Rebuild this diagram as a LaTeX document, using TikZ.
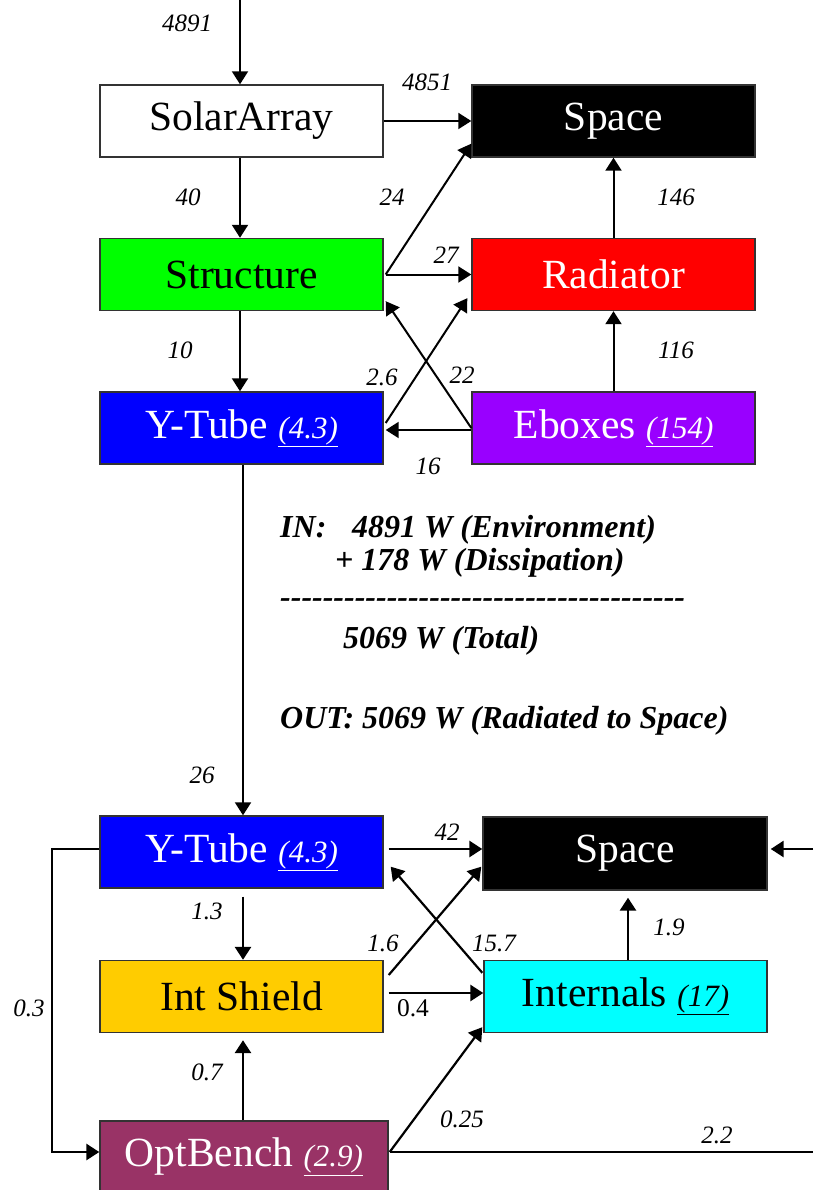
\documentclass[tikz,border=0pt]{standalone}
\usepackage{fontspec}
\setmainfont{Liberation Serif}
\usetikzlibrary{arrows.meta,calc}
\definecolor{cgreen}{HTML}{00FF00}
\definecolor{cred}{HTML}{FF0000}
\definecolor{cblue}{HTML}{0000FF}
\definecolor{cpurple}{HTML}{9900FF}
\definecolor{cgold}{HTML}{FFCC00}
\definecolor{ccyan}{HTML}{00FFFF}
\definecolor{cbench}{HTML}{993366}
\begin{document}
\begin{tikzpicture}[x=1pt,y=-1pt,
  box/.style={draw=black!80,line width=1.4pt,minimum width=283pt,minimum height=72pt,inner sep=0pt,
    font=\fontsize{41.5}{48}\selectfont},
  wbox/.style={box,text=white},
  lab/.style={font=\fontsize{25}{28}\selectfont\itshape,inner sep=0pt},
  ulab/.style={font=\fontsize{25.5}{28}\selectfont,inner sep=0pt},
  note/.style={font=\fontsize{32}{36}\selectfont\bfseries\itshape,anchor=west,inner sep=0pt},
  flow/.style={line width=2pt,-{Triangle[length=13pt,width=16pt]}},
  bflow/.style={line width=2.8pt,-{Triangle[length=13pt,width=16pt]}},
  dflow/.style={line width=2.2pt,-{Triangle[length=13pt,width=16pt]}},
  plain/.style={line width=2.8pt}
]
\newcommand{\sub}[1]{\fontsize{31}{36}\selectfont\underline{\textit{#1}}}
\newcommand{\hyfive}{-\kern0pt-\kern0pt-\kern0pt-\kern0pt-\kern0pt}
\useasboundingbox (0,0) rectangle (813,1190);
\fill[white] (0,0) rectangle (813,1190);

% nodes
\node[box,fill=white] (sa) at (241.5,121) {SolarArray};
\node[wbox,fill=black] (sp1) at (613.5,121) {Space};
\node[box,fill=cgreen] (st) at (241.5,274.5) {Structure};
\node[wbox,fill=cred] (rad) at (613.5,274.5) {Radiator};
\node[wbox,fill=cblue] (yt1) at (241.5,428) {Y-Tube \sub{(4.3)}};
\node[wbox,fill=cpurple] (eb) at (613.5,428) {Eboxes \sub{(154)}};
\node[wbox,fill=cblue] (yt2) at (241.5,852) {Y-Tube \sub{(4.3)}};
\node[wbox,fill=black,minimum width=284pt,minimum height=73pt] (sp2) at (625,853.5) {Space};
\node[box,fill=cgold] (is) at (241.5,996.5) {Int Shield};
\node[box,fill=ccyan] (int) at (625.5,996.5) {Internals \sub{(17)}};
\node[wbox,fill=cbench,minimum width=288pt] (ob) at (244,1157) {OptBench \sub{(2.9)}};

\coordinate (top) at (240,0);
\coordinate (rbot) at (813,1152);
\coordinate (rtop) at (813,849);

% top connectors
\draw[flow] (top) -- (sa.north -| top);
\draw[flow] (sa.east) -- (sp1.west);
\draw[flow] (sa.south -| top) -- (st.north -| top);
\draw[flow] ($(st.east)+(2,0)$) -- ($(sp1.south west)+(0,-14)$);
\draw[flow] ($(st.east)+(2,0)$) -- (rad.west);
\draw[flow] (rad.north) -- (sp1.south);
\draw[flow] (st.south -| top) -- (yt1.north -| top);
\draw[flow] (eb.north) -- (rad.south);
\draw[flow] (eb.west) -- ($(st.south east)+(2,-10)$);
\draw[flow] ($(yt1.east)+(2,-5)$) -- ($(rad.south west)+(-4,-13)$);
\draw[flow] ($(eb.west)+(0,2)$) -- ($(yt1.east)+(2,2)$);
\draw[flow] ($(yt1.south)+(1.5,0)$) -- ($(yt2.north)+(1.5,0)$);

% bottom connectors
\draw[bflow] ($(yt2.east)+(5,-3)$) -- ($(sp2.west)+(0,-4.5)$);
\draw[dflow] ($(is.east)+(5,-21.5)$) -- ($(sp2.south west)+(-1,-24)$);
\draw[dflow] ($(int.north west)+(-1,13)$) -- ($(yt2.south east)+(7,-22)$);
\draw[bflow] ($(is.east)+(5,-3.5)$) -- ($(int.west)+(0,-3.5)$);
\draw[bflow] ($(int.north)+(2.5,0)$) -- ($(sp2.south)+(3,7)$);
\draw[bflow] ($(yt2.south)+(1.5,8)$) -- ($(is.north)+(1.5,0)$);
\draw[bflow] ($(ob.north)+(-1,0)$) -- ($(is.south)+(1.5,7)$);
\draw[bflow] ($(yt2.west)+(0,-3)$) -- (52,849) |- ($(ob.west)+(0,-5)$);
\draw[dflow] ($(ob.east)+(1,-5)$) -- ($(int.south west)+(-1,-6)$);
\draw[plain] ($(ob.east)+(1,-5)$) -- (rbot);
\draw[bflow] (rtop) -- ($(sp2.east)+(3,-4.5)$);

% flow labels
\node[lab] at (187,23) {4891};
\node[lab] at (427,82) {4851};
\node[lab] at (188,197) {40};
\node[lab] at (392,197) {24};
\node[lab] at (446,255) {27};
\node[lab] at (676,197) {146};
\node[lab] at (180,350) {10};
\node[lab] at (676,350) {116};
\node[lab] at (382,377) {2.6};
\node[lab] at (462,375) {22};
\node[lab] at (428,466) {16};
\node[lab] at (202,775) {26};
\node[lab] at (447,832) {42};
\node[lab] at (207,911) {1.3};
\node[lab] at (383,943) {1.6};
\node[lab] at (494,943) {15.7};
\node[lab] at (669,927) {1.9};
\node[lab] at (29,1008) {0.3};
\node[ulab] at (413,1008) {0.4};
\node[lab] at (207,1072) {0.7};
\node[lab] at (462,1119) {0.25};
\node[lab] at (717,1135) {2.2};

% balance note
\node[note] (n1) at (280,530) {IN:\hspace{0.8em}4891 W (Environment)};
\node[note] (n2) at (335,563) {+ 178 W (Dissipation)};
\node[note] (n3) at (280,603) {\hyfive\hyfive\hyfive\hyfive\hyfive\hyfive\hyfive-\kern0pt-\kern0pt-};
\node[note] (n4) at (343,641) {5069 W (Total)};
\node[note] (n5) at (280,721) {OUT: 5069 W (Radiated to Space)};
\end{tikzpicture}
\end{document}
